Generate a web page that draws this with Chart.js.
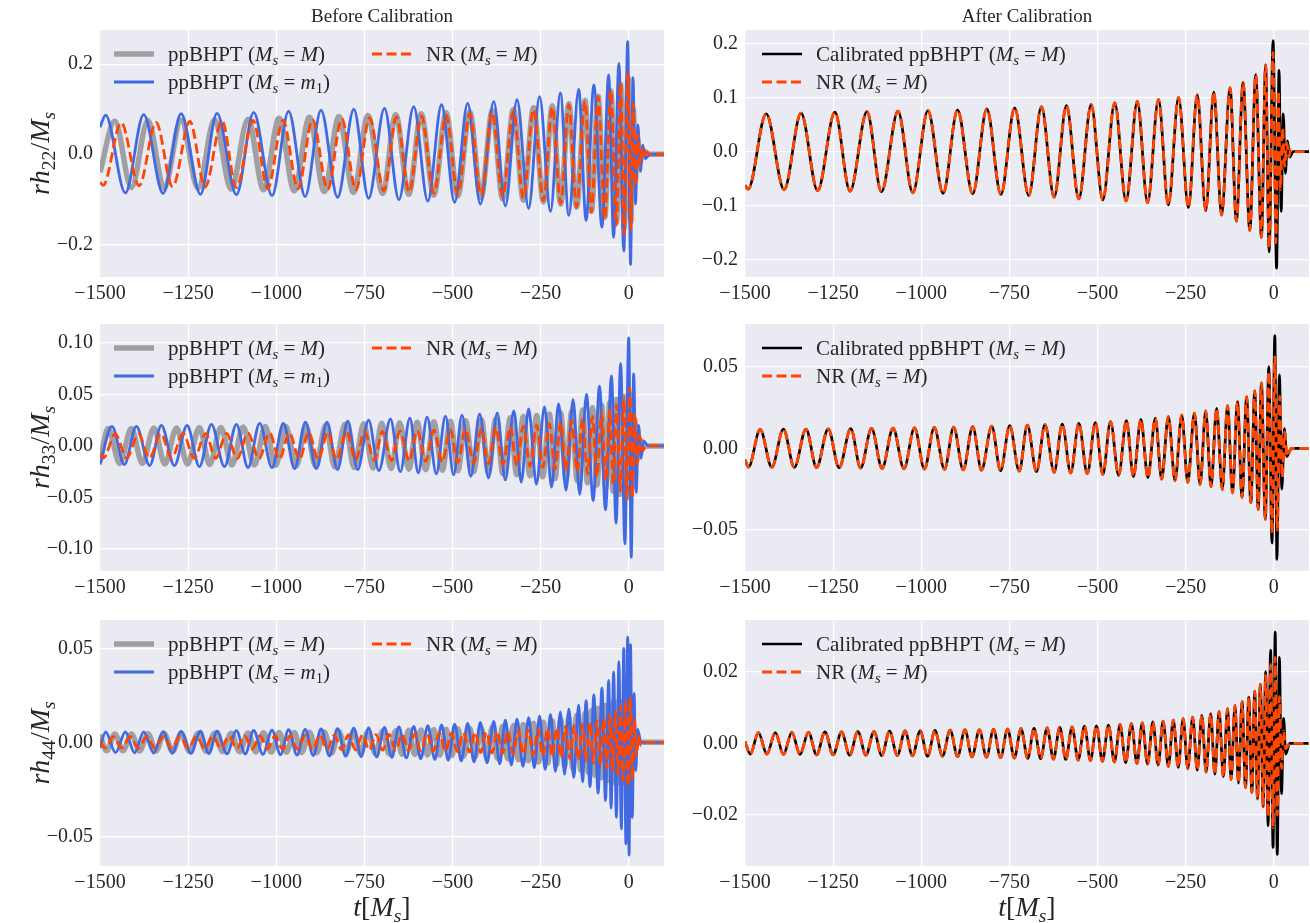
<!DOCTYPE html>
<html lang="en">
<head>
<meta charset="UTF-8">
<title>ppBHPT vs NR, before and after calibration</title>
<script src="https://cdn.jsdelivr.net/npm/chart.js"></script>
<style>
  body { margin: 0; background: #fff; }
  #wrap { position: relative; width: 1310px; height: 923px; }
  canvas { position: absolute; }
</style>
</head>
<body>
<div id="wrap">
  <canvas id="c22L" width="668" height="300" style="left:0;top:0"></canvas>
  <canvas id="c22R" width="642" height="300" style="left:668px;top:0"></canvas>
  <canvas id="c33L" width="668" height="294" style="left:0;top:300px"></canvas>
  <canvas id="c33R" width="642" height="294" style="left:668px;top:300px"></canvas>
  <canvas id="c44L" width="668" height="329" style="left:0;top:594px"></canvas>
  <canvas id="c44R" width="642" height="329" style="left:668px;top:594px"></canvas>
</div>
<script>
// ---- data: waveform extrema (t in M_s, h = r h_lm / M_s) ----
const xTicks = [-1500, -1250, -1000, -750, -500, -250, 0];

// (2,2) mode
const nr22T = [-1500, -1491, -1440, -1389, -1341, -1294, -1245, -1202, -1154, -1113, -1066, -1024, -981, -938, -897, -854, -814, -774, -735, -695, -659, -623, -588, -553, -518, -485, -451, -419, -387, -358, -327, -299, -270, -242, -217, -193, -170, -148, -124, -106, -87, -68, -51, -35, -23, -13, -2, 6, 13, 19, 25, 31, 37, 43, 49, 62, 100];
const nr22H = [-0.062, -0.069, 0.070, -0.070, 0.071, -0.072, 0.073, -0.073, 0.074, -0.074, 0.075, -0.076, 0.076, -0.077, 0.077, -0.078, 0.079, -0.079, 0.081, -0.081, 0.083, -0.084, 0.085, -0.087, 0.087, -0.089, 0.090, -0.091, 0.093, -0.094, 0.096, -0.098, 0.100, -0.103, 0.105, -0.109, 0.110, -0.117, 0.118, -0.128, 0.128, -0.145, 0.142, -0.158, 0.160, -0.178, 0.183, -0.168, 0.112, -0.070, 0.044, -0.027, 0.016, -0.009, 0.005, 0, 0];
const gray22T = [-1500, -1458, -1411, -1364, -1318, -1270, -1222, -1175, -1128, -1080, -1036, -992, -949, -906, -864, -822, -781, -740, -698, -661, -624, -589, -553, -518, -485, -451, -419, -387, -358, -327, -299, -270, -242, -217, -193, -170, -148, -124, -106, -87, -68, -51, -35, -23, -13, -2, 6, 13, 19, 25, 31, 40, 60, 100];
const gray22H = [-0.04, 0.074, -0.074, 0.075, -0.075, 0.076, -0.076, 0.077, -0.078, 0.078, -0.079, 0.080, -0.081, 0.082, -0.083, 0.084, -0.085, 0.086, -0.087, 0.088, -0.089, 0.090, -0.091, 0.092, -0.093, 0.094, -0.096, 0.097, -0.099, 0.100, -0.102, 0.104, -0.106, 0.108, -0.111, 0.113, -0.118, 0.120, -0.127, 0.129, -0.140, 0.141, -0.152, 0.155, -0.165, 0.170, -0.150, 0.10, -0.06, 0.035, -0.02, 0.008, 0, 0];
const blue22T = [-1500, -1484, -1428, -1376, -1321, -1270, -1215, -1168, -1113, -1064, -1012, -965, -918, -873, -826, -780, -738, -693, -652, -610, -570, -531, -494, -457, -421, -383, -350, -317, -284, -253, -222, -194, -170, -142, -121, -99, -76, -57, -43, -28, -14, -3, 5, 12, 19, 26, 33, 40, 47, 60, 100];
const blue22H = [0.06, 0.087, -0.086, 0.088, -0.087, 0.090, -0.089, 0.091, -0.090, 0.093, -0.092, 0.096, -0.094, 0.098, -0.096, 0.100, -0.098, 0.102, -0.101, 0.106, -0.104, 0.110, -0.107, 0.113, -0.111, 0.117, -0.115, 0.121, -0.120, 0.128, -0.127, 0.136, -0.136, 0.144, -0.147, 0.154, -0.162, 0.176, -0.185, 0.202, -0.215, 0.250, -0.245, 0.17, -0.11, 0.065, -0.038, 0.02, -0.01, 0, 0];
// calibrated ppBHPT follows NR through the inspiral, differs near the peak
const cal22T = nr22T.slice(0, 45).concat([-13, -2, 8, 15, 21, 27, 33, 39, 45, 55, 100]);
const cal22H = nr22H.slice(0, 45).concat([-0.185, 0.205, -0.215, 0.15, -0.11, 0.07, -0.04, 0.02, -0.01, 0, 0]);

// (3,3) mode
const nr33T = [-1500, -1490, -1457, -1424, -1391, -1360, -1327, -1297, -1264, -1233, -1200, -1172, -1141, -1111, -1080, -1049, -1019, -991, -963, -934, -908, -881, -854, -829, -800, -775, -749, -722, -699, -673, -649, -623, -600, -576, -553, -529, -506, -485, -463, -440, -418, -398, -377, -357, -336, -318, -299, -280, -261, -244, -225, -209, -193, -178, -162, -146, -131, -117, -103, -90, -77, -65, -54, -44, -35, -24, -14, -5, 3, 10, 17, 24, 31, 38, 50, 100];
const nr33H = [-0.007, -0.0115, 0.0116, -0.0116, 0.0117, -0.0117, 0.0118, -0.0118, 0.0119, -0.0119,
  0.0120, -0.0121, 0.0122, -0.0123, 0.0124, -0.0125, 0.0126, -0.0127, 0.0128, -0.0129,
  0.0130, -0.0132, 0.0133, -0.0134, 0.0136, -0.0137, 0.0139, -0.0140, 0.0142, -0.0143,
  0.0145, -0.0147, 0.0149, -0.0151, 0.0153, -0.0155, 0.0158, -0.0160, 0.0163, -0.0166,
  0.0170, -0.0173, 0.0177, -0.0180, 0.0185, -0.0189, 0.0194, -0.0198, 0.0204, -0.0209,
  0.0216, -0.0222, 0.0229, -0.0236, 0.0244, -0.0253, 0.0262, -0.0273, 0.0286, -0.0300,
  0.0315, -0.0333, 0.0352, -0.0375, 0.0400, -0.0435, 0.0470, -0.0520, 0.0560, -0.0500,
  0.0320, -0.0180, 0.0100, -0.0050, 0, 0];
const gray33T = [-1500, -1477, -1444, -1411, -1380, -1347, -1316, -1283, -1252, -1218, -1189, -1157, -1126, -1094, -1062, -1031, -1002, -973, -943, -916, -888, -860, -834, -805, -779, -752, -725, -701, -674, -650, -624, -600, -576, -553, -529, -506, -485, -463, -440, -418, -398, -377, -357, -336, -318, -299, -280, -261, -244, -225, -209, -193, -178, -162, -146, -131, -117, -103, -90, -77, -65, -54, -44, -35, -24, -14, -5, 3, 10, 17, 24, 31, 45, 100];
const gray33H = [-0.015, 0.017, -0.017, 0.017, -0.017, 0.0175, -0.0175, 0.0175, -0.0175, 0.018,
  -0.018, 0.018, -0.0185, 0.0185, -0.0185, 0.019, -0.019, 0.019, -0.0195, 0.0195,
  -0.020, 0.020, -0.0205, 0.021, -0.021, 0.0215, -0.0215, 0.022, -0.022, 0.0225,
  -0.0225, 0.023, -0.023, 0.0235, -0.0235, 0.024, -0.024, 0.0245, -0.025, 0.0255,
  -0.026, 0.0265, -0.027, 0.0275, -0.028, 0.0285, -0.029, 0.0295, -0.030, 0.031,
  -0.0315, 0.032, -0.033, 0.0335, -0.034, 0.035, -0.036, 0.037, -0.038, 0.040,
  -0.041, 0.042, -0.044, 0.045, -0.047, 0.048, -0.050, 0.050, -0.040, 0.025,
  -0.013, 0.006, 0, 0];
const blue33T = [-1500, -1466, -1431, -1397, -1359, -1326, -1289, -1253, -1218, -1184, -1147, -1113, -1080, -1047, -1012, -980, -948, -917, -886, -856, -826, -797, -769, -738, -709, -676, -648, -621, -597, -572, -546, -520, -497, -473, -448, -423, -398, -373, -350, -326, -305, -284, -262, -239, -219, -199, -178, -158, -139, -120, -101, -83, -66, -49, -36, -23, -11, 0, 7, 14, 21, 28, 35, 42, 55, 100];
const blue33H = [-0.018, 0.019, -0.018, 0.019, -0.019, 0.020, -0.019, 0.020, -0.020, 0.021,
  -0.020, 0.021, -0.021, 0.022, -0.021, 0.022, -0.022, 0.023, -0.022, 0.023,
  -0.023, 0.024, -0.023, 0.025, -0.024, 0.026, -0.025, 0.027, -0.026, 0.028,
  -0.027, 0.029, -0.028, 0.030, -0.0295, 0.031, -0.031, 0.032, -0.033, 0.034,
  -0.035, 0.036, -0.037, 0.038, -0.040, 0.041, -0.043, 0.045, -0.047, 0.050,
  -0.053, 0.058, -0.062, 0.068, -0.075, 0.080, -0.095, 0.105, -0.108, 0.070,
  -0.045, 0.020, -0.012, 0.005, 0, 0];
const cal33T = nr33T.slice(0, 66).concat([-14, -5, 3, 9, 16, 23, 30, 37, 50, 100]);
const cal33H = nr33H.slice(0, 66).concat([0.05, -0.058, 0.069, -0.068, 0.045, -0.025, 0.012, -0.005, 0, 0]);

// (4,4) mode
const nr44T = [-1500, -1485, -1462, -1438, -1414, -1391, -1367, -1344, -1320, -1297,
  -1273, -1250, -1226, -1203, -1180, -1157, -1134, -1112, -1090, -1068,
  -1046, -1025, -1003, -982, -961, -940, -918, -897, -876, -856,
  -835, -815, -795, -775, -755, -736, -717, -698, -680, -661,
  -643, -625, -607, -590, -572, -555, -537, -520, -503, -486,
  -469, -452, -436, -420, -404, -388, -373, -358, -343, -328,
  -314, -299, -285, -271, -257, -244, -230, -217, -204, -192,
  -179, -167, -155, -143, -131, -121, -110, -100, -90, -80,
  -71, -62, -54, -46, -38, -30, -23, -16, -9, -2,
  4, 10, 16, 22, 28, 34, 45, 100];
const nr44H = [0.0005, -0.0030, 0.0030, -0.0030, 0.0030, -0.0031, 0.0031, -0.0031, 0.0031, -0.0032,
  0.0032, -0.0032, 0.0032, -0.0033, 0.0033, -0.0033, 0.0033, -0.0034, 0.0034, -0.0034,
  0.0035, -0.0035, 0.0035, -0.0036, 0.0036, -0.0036, 0.0037, -0.0037, 0.0038, -0.0038,
  0.0038, -0.0039, 0.0039, -0.0040, 0.0040, -0.0041, 0.0041, -0.0042, 0.0042, -0.0043,
  0.0043, -0.0044, 0.0045, -0.0045, 0.0046, -0.0047, 0.0048, -0.0048, 0.0049, -0.0050,
  0.0051, -0.0052, 0.0053, -0.0054, 0.0055, -0.0056, 0.0057, -0.0058, 0.0060, -0.0061,
  0.0062, -0.0064, 0.0065, -0.0067, 0.0069, -0.0071, 0.0073, -0.0075, 0.0078, -0.0080,
  0.0083, -0.0086, 0.0089, -0.0093, 0.0097, -0.0101, 0.0106, -0.0111, 0.0117, -0.0123,
  0.0129, -0.0137, 0.0145, -0.0155, 0.0165, -0.0177, 0.0190, -0.0205, 0.0220, -0.0235,
  0.0240, -0.0200, 0.0130, -0.0070, 0.0035, -0.0015, 0, 0];
const gray44T = [-1500, -1481, -1458, -1435, -1411, -1388, -1364, -1341, -1318, -1294,
  -1270, -1246, -1222, -1199, -1175, -1152, -1128, -1104, -1080, -1058,
  -1036, -1014, -992, -971, -949, -928, -906, -885, -864, -843,
  -822, -802, -781, -761, -740, -719, -698, -680, -661, -643,
  -624, -607, -589, -571, -553, -536, -518, -502, -485, -468,
  -451, -435, -419, -403, -387, -373, -358, -343, -327, -313,
  -299, -285, -270, -256, -242, -230, -217, -205, -193, -182,
  -170, -159, -148, -136, -124, -115, -106, -97, -87, -78,
  -68, -60, -51, -43, -35, -29, -23, -18, -13, -8,
  -2, 3, 8, 13, 18, 30, 100];
const gray44H = [0.004, -0.0045, 0.0045, -0.0045, 0.0045, -0.0046, 0.0046, -0.0046, 0.0047, -0.0047,
  0.0047, -0.0048, 0.0048, -0.0048, 0.0049, -0.0049, 0.0049, -0.0050, 0.0050, -0.0051,
  0.0051, -0.0052, 0.0052, -0.0053, 0.0053, -0.0054, 0.0054, -0.0055, 0.0055, -0.0056,
  0.0056, -0.0057, 0.0057, -0.0058, 0.0058, -0.0059, 0.0060, -0.0061, 0.0062, -0.0063,
  0.0064, -0.0065, 0.0066, -0.0067, 0.0068, -0.0069, 0.0070, -0.0071, 0.0072, -0.0073,
  0.0075, -0.0076, 0.0078, -0.0080, 0.0082, -0.0084, 0.0086, -0.0088, 0.0090, -0.0092,
  0.0095, -0.0098, 0.0101, -0.0104, 0.0107, -0.0110, 0.0114, -0.0118, 0.0122, -0.0127,
  0.0132, -0.0137, 0.0143, -0.0149, 0.0155, -0.0161, 0.0168, -0.0175, 0.0182, -0.0189,
  0.0196, -0.0203, 0.0208, -0.0212, 0.0215, -0.0215, 0.0215, -0.0212, 0.0208, -0.0200,
  0.0190, -0.0150, 0.0090, -0.0045, 0.002, 0, 0];
const blue44T = [-1500, -1484, -1456, -1428, -1402, -1376, -1348, -1321, -1295, -1270,
  -1242, -1215, -1191, -1168, -1140, -1113, -1088, -1064, -1038, -1012,
  -988, -965, -941, -918, -895, -873, -849, -826, -803, -780,
  -759, -738, -715, -693, -672, -652, -631, -610, -590, -570,
  -550, -531, -512, -494, -475, -457, -439, -421, -402, -383,
  -366, -350, -333, -317, -300, -284, -268, -253, -237, -222,
  -208, -194, -182, -170, -156, -142, -131, -121, -110, -99,
  -87, -76, -66, -57, -50, -43, -35, -28, -21, -14,
  -8, -3, 1, 5, 10, 15, 20, 25, 35, 100];
const blue44H = [-0.003, 0.0055, -0.0055, 0.0055, -0.0056, 0.0056, -0.0057, 0.0057, -0.0058, 0.0058,
  -0.0059, 0.0059, -0.0060, 0.0060, -0.0061, 0.0062, -0.0062, 0.0063, -0.0064, 0.0065,
  -0.0066, 0.0067, -0.0068, 0.0069, -0.0070, 0.0071, -0.0072, 0.0073, -0.0074, 0.0075,
  -0.0076, 0.0077, -0.0078, 0.0079, -0.0080, 0.0082, -0.0083, 0.0085, -0.0087, 0.0089,
  -0.0091, 0.0093, -0.0095, 0.0097, -0.0099, 0.0101, -0.0104, 0.0106, -0.0109, 0.0112,
  -0.0115, 0.0118, -0.0121, 0.0124, -0.0128, 0.0131, -0.0135, 0.0139, -0.0144, 0.0149,
  -0.0155, 0.0162, -0.0170, 0.0178, -0.0188, 0.0199, -0.0210, 0.0222, -0.0236, 0.0252,
  -0.0270, 0.0290, -0.0310, 0.0330, -0.0350, 0.0375, -0.0400, 0.0430, -0.0460, 0.0500,
  -0.0540, 0.0560, -0.0600, 0.0520, -0.0400, 0.0260, -0.0150, 0.0070, 0, 0];
const cal44T = nr44T.slice(0, 86).concat([-23, -16, -9, -2, 4, 10, 16, 22, 28, 34, 45, 100]);
const cal44H = nr44H.slice(0, 86).concat([0.020, -0.023, 0.026, -0.029, 0.031, -0.031, 0.024, -0.014, 0.007, -0.003, 0, 0]);

// y ticks per panel
const yTicks22L = [-0.2, 0, 0.2];
const yTicks22R = [-0.2, -0.1, 0, 0.1, 0.2];
const yTicks33L = [-0.10, -0.05, 0, 0.05, 0.10];
const yTicks33R = [-0.05, 0, 0.05];
const yTicks44L = [-0.05, 0, 0.05];
const yTicks44R = [-0.02, 0, 0.02];

// ---- styling ----
const FONT = '"Liberation Serif", "DejaVu Serif", serif';
const TXT = '#262626';
const GRAY = {color: '#a0a0a4', w: 5.5, order: 3};
const BLUE = {color: '#4169e1', w: 2.8, order: 2};
const NR = {color: '#ff4500', w: 2.8, dash: [10, 4.5], order: 1};
const CAL = {color: '#000000', w: 2.7, order: 2};

const lgGray = [['ppBHPT (', ''], ['M', 'i'], ['s', 'is'], [' = ', ''], ['M', 'i'], [')', '']];
const lgBlue = [['ppBHPT (', ''], ['M', 'i'], ['s', 'is'], [' = ', ''], ['m', 'i'], ['1', 's'], [')', '']];
const lgNR = [['NR (', ''], ['M', 'i'], ['s', 'is'], [' = ', ''], ['M', 'i'], [')', '']];
const lgCal = [['Calibrated ppBHPT (', ''], ['M', 'i'], ['s', 'is'], [' = ', ''], ['M', 'i'], [')', '']];
const xTitle = [['t', 'i'], ['[', ''], ['M', 'i'], ['s', 'is'], [']', '']];
function yTitle(lm) { return [['r', 'i'], ['h', 'i'], [lm, 's'], ['/', ''], ['M', 'i'], ['s', 'is']]; }

function fmt(v, d) { return v.toFixed(d).replace('-', '\u2212'); }

// draws text made of upright / italic / subscript pieces, baseline at y
function drawRich(ctx, segs, x, y, size, align) {
  const parts = segs.map(([t, st]) => {
    const sub = st.includes('s');
    const px = sub ? size * 0.7 : size;
    const font = (st.includes('i') ? 'italic ' : '') + px + 'px ' + FONT;
    ctx.font = font;
    return {t, font, dy: sub ? size * 0.2 : 0, w: ctx.measureText(t).width};
  });
  const total = parts.reduce((s, p) => s + p.w, 0);
  let cx = align === 'center' ? x - total / 2 : x;
  ctx.textAlign = 'left';
  ctx.textBaseline = 'alphabetic';
  parts.forEach(p => { ctx.font = p.font; ctx.fillText(p.t, cx, y + p.dy); cx += p.w; });
}

const decor = {
  id: 'decor',
  beforeDraw(chart) {
    const {ctx, chartArea: a} = chart;
    ctx.save();
    ctx.fillStyle = '#eaeaf2';
    ctx.fillRect(a.left, a.top, a.right - a.left, a.bottom - a.top);
    ctx.restore();
  },
  afterDraw(chart, args, o) {
    const {ctx, chartArea: a} = chart;
    ctx.save();
    ctx.fillStyle = TXT;
    // legend
    (o.legend || []).forEach(it => {
      const x0 = a.left + o.legendX[it.col];
      const yc = a.top + 24 + 28 * it.row;
      ctx.save();
      ctx.strokeStyle = it.s.color;
      ctx.lineWidth = it.s.w;
      ctx.setLineDash(it.s.dash || []);
      ctx.beginPath();
      ctx.moveTo(x0, yc);
      ctx.lineTo(x0 + 40, yc);
      ctx.stroke();
      ctx.restore();
      drawRich(ctx, it.segs, x0 + 54, yc + 7, 21, 'left');
    });
    if (o.colTitle) {
      ctx.font = '19px ' + FONT;
      ctx.textAlign = 'center';
      ctx.textBaseline = 'alphabetic';
      ctx.fillText(o.colTitle, (a.left + a.right) / 2, 22);
    }
    if (o.yTitle) {
      ctx.translate(40, (a.top + a.bottom) / 2);
      ctx.rotate(-Math.PI / 2);
      drawRich(ctx, o.yTitle, 0, 9, 28, 'center');
      ctx.setTransform(1, 0, 0, 1, 0, 0);
    }
    if (o.xTitle) {
      drawRich(ctx, xTitle, (a.left + a.right) / 2, a.bottom + 50, 28, 'center');
    }
    ctx.restore();
  }
};

function makeChart(id, cfg) {
  const datasets = cfg.series.map(([t, h, s]) => ({
    data: t.slice(0, Math.min(t.length, h.length)).map((v, i) => ({x: v, y: h[i]})),
    borderColor: s.color,
    borderWidth: s.w,
    borderDash: s.dash || [],
    borderJoinStyle: 'round',
    order: s.order,
    pointRadius: 0,
    fill: false,
    cubicInterpolationMode: 'monotone'
  }));
  const left = cfg.side === 'L';
  return new Chart(document.getElementById(id), {
    type: 'line',
    data: {datasets},
    options: {
      responsive: false,
      animation: false,
      devicePixelRatio: 1,
      events: [],
      layout: {padding: {top: cfg.padTop, bottom: cfg.padBottom, left: 0, right: left ? 4 : 1}},
      plugins: {legend: {display: false}, tooltip: {enabled: false}, decor: cfg.decor},
      scales: {
        x: {
          type: 'linear', min: -1500, max: 100,
          afterBuildTicks: s => { s.ticks = xTicks.map(v => ({value: v})); },
          afterFit: s => { s.height = 23; },
          grid: {color: '#ffffff', lineWidth: 1.2, drawTicks: false},
          border: {display: false},
          ticks: {font: {family: FONT, size: 20}, color: TXT, padding: 5, maxRotation: 0, autoSkip: false,
                  callback: v => fmt(v, 0)}
        },
        y: {
          type: 'linear', min: cfg.yMin, max: cfg.yMax,
          afterBuildTicks: s => { s.ticks = cfg.yTicks.map(v => ({value: v})); },
          afterFit: s => { s.width = left ? 100 : 77; },
          grid: {color: '#ffffff', lineWidth: 1.2, drawTicks: false},
          border: {display: false},
          ticks: {font: {family: FONT, size: 20}, color: TXT, padding: 7, autoSkip: false,
                  callback: v => fmt(v, cfg.dec)}
        }
      }
    },
    plugins: [decor]
  });
}

const legendL = [
  {segs: lgGray, s: GRAY, col: 0, row: 0},
  {segs: lgBlue, s: BLUE, col: 0, row: 1},
  {segs: lgNR, s: NR, col: 1, row: 0}
];
const legendR = [
  {segs: lgCal, s: CAL, col: 0, row: 0},
  {segs: lgNR, s: NR, col: 0, row: 1}
];

makeChart('c22L', {side: 'L', padTop: 30, padBottom: 0, yMin: -0.2727, yMax: 0.276, yTicks: yTicks22L, dec: 1,
  series: [[gray22T, gray22H, GRAY], [blue22T, blue22H, BLUE], [nr22T, nr22H, NR]],
  decor: {legend: legendL, legendX: [14, 272], colTitle: 'Before Calibration', yTitle: yTitle('22')}});
makeChart('c22R', {side: 'R', padTop: 30, padBottom: 0, yMin: -0.2312, yMax: 0.2245, yTicks: yTicks22R, dec: 1,
  series: [[cal22T, cal22H, CAL], [nr22T, nr22H, NR]],
  decor: {legend: legendR, legendX: [17], colTitle: 'After Calibration'}});
makeChart('c33L', {side: 'L', padTop: 24, padBottom: 0, yMin: -0.1214, yMax: 0.1184, yTicks: yTicks33L, dec: 2,
  series: [[gray33T, gray33H, GRAY], [blue33T, blue33H, BLUE], [nr33T, nr33H, NR]],
  decor: {legend: legendL, legendX: [14, 272], yTitle: yTitle('33')}});
makeChart('c33R', {side: 'R', padTop: 24, padBottom: 0, yMin: -0.0751, yMax: 0.0761, yTicks: yTicks33R, dec: 2,
  series: [[cal33T, cal33H, CAL], [nr33T, nr33H, NR]],
  decor: {legend: legendR, legendX: [17]}});
makeChart('c44L', {side: 'L', padTop: 26, padBottom: 34, yMin: -0.0658, yMax: 0.0651, yTicks: yTicks44L, dec: 2,
  series: [[gray44T, gray44H, GRAY], [blue44T, blue44H, BLUE], [nr44T, nr44H, NR]],
  decor: {legend: legendL, legendX: [14, 272], yTitle: yTitle('44'), xTitle: true}});
makeChart('c44R', {side: 'R', padTop: 26, padBottom: 34, yMin: -0.0342, yMax: 0.0344, yTicks: yTicks44R, dec: 2,
  series: [[cal44T, cal44H, CAL], [nr44T, nr44H, NR]],
  decor: {legend: legendR, legendX: [17], xTitle: true}});
</script>
</body>
</html>
